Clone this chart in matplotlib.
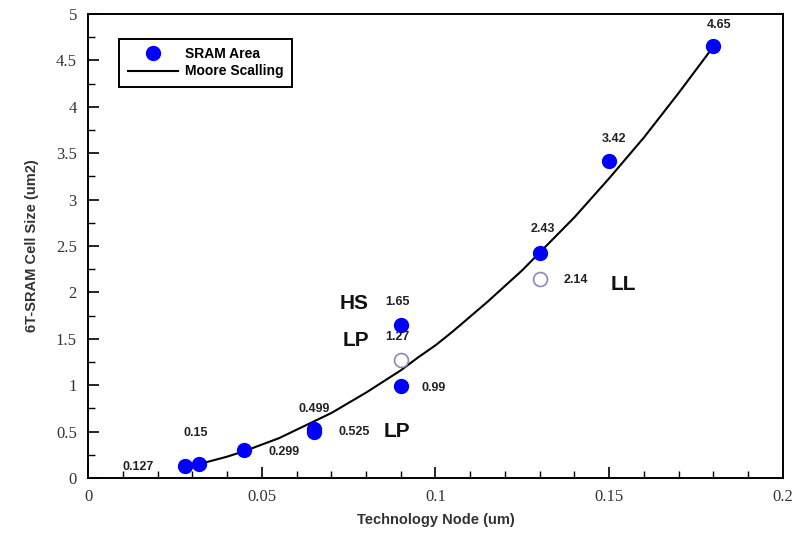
import matplotlib.pyplot as plt
from matplotlib.ticker import MultipleLocator

# measured cell sizes (um2) per node (um)
node = [0.028, 0.032, 0.045, 0.065, 0.065, 0.09, 0.09, 0.13, 0.15, 0.18]
area = [0.127, 0.15, 0.299, 0.499, 0.525, 0.99, 1.65, 2.43, 3.42, 4.65]

# open markers (LP 90nm, LL 130nm)
open_node = [0.09, 0.13]
open_area = [1.27, 2.14]

# Moore scaling curve
moore_x = [0.032, 0.036, 0.04, 0.045, 0.05, 0.055, 0.06, 0.065, 0.07, 0.075,
           0.08, 0.085, 0.09, 0.095, 0.10, 0.105, 0.11, 0.115, 0.12, 0.125,
           0.13, 0.135, 0.14, 0.145, 0.15, 0.155, 0.16, 0.165, 0.17, 0.175, 0.18]
moore_y = [0.15, 0.19, 0.23, 0.29, 0.36, 0.43, 0.52, 0.61, 0.70, 0.81,
           0.92, 1.04, 1.16, 1.30, 1.43, 1.58, 1.74, 1.90, 2.07, 2.24,
           2.43, 2.62, 2.81, 3.02, 3.23, 3.45, 3.67, 3.91, 4.15, 4.40, 4.65]

value_labels = ['0.127', '0.15', '0.299', '0.499', '0.525', '0.99',
                '1.65', '1.27', '2.43', '2.14', '3.42', '4.65']
label_x = [0.0145, 0.0310, 0.0565, 0.0650, 0.0765, 0.0995,
           0.0890, 0.0890, 0.1310, 0.1405, 0.1515, 0.1815]
label_y = [0.12, 0.48, 0.28, 0.74, 0.50, 0.97,
           1.90, 1.52, 2.68, 2.13, 3.65, 4.88]

tags = ['HS', 'LP', 'LP', 'LL']
tag_x = [0.0765, 0.0770, 0.0890, 0.1540]
tag_y = [1.88, 1.48, 0.50, 2.08]

fig = plt.figure(figsize=(7.96, 5.35), dpi=100)
ax = fig.add_axes([0.1106, 0.1065, 0.873, 0.8673])

ax.plot(node, area, 'o', color='#0000ff', ms=10, label='SRAM Area', zorder=3)
ax.plot(moore_x, moore_y, color='black', lw=1.5, label='Moore Scalling', zorder=2)
ax.plot(open_node, open_area, 'o', mfc='white', mec='#8888bb', mew=1.2, ms=10, zorder=3)

for t, x, y in zip(value_labels, label_x, label_y):
    ax.text(x, y, t, fontsize=9, fontweight='bold', color='#222222',
            family='Liberation Sans', ha='center', va='center')
for t, x, y in zip(tags, tag_x, tag_y):
    ax.text(x, y, t, fontsize=15, fontweight='bold', color='#111111',
            family='Liberation Sans', ha='center', va='center')

ax.set_xlim(0, 0.2)
ax.set_ylim(0, 5)
ax.xaxis.set_minor_locator(MultipleLocator(0.01))
ax.yaxis.set_minor_locator(MultipleLocator(0.25))
ax.set_xticks([0, 0.05, 0.1, 0.15, 0.2])
ax.set_xticklabels(['0', '0.05', '0.1', '0.15', '0.2'])
ax.set_yticks([0, 0.5, 1, 1.5, 2, 2.5, 3, 3.5, 4, 4.5, 5])
ax.set_yticklabels(['0', '0.5', '1', '1.5', '2', '2.5', '3', '3.5', '4', '4.5', '5'])
ax.tick_params(which='major', direction='in', length=8, width=1.2,
               labelsize=12, pad=8)
ax.tick_params(which='minor', direction='in', length=5, width=1)
for lbl in ax.get_xticklabels() + ax.get_yticklabels():
    lbl.set_family('Liberation Serif')
    lbl.set_color('#333333')
for s in ax.spines.values():
    s.set_linewidth(1.4)

ax.set_xlabel('Technology Node (um)', fontsize=10.5, fontweight='bold',
              family='Liberation Sans', color='#333333', labelpad=6)
ax.set_ylabel('6T-SRAM Cell Size (um2)', fontsize=10.5, fontweight='bold',
              family='Liberation Sans', color='#333333', labelpad=12)

leg = ax.legend(loc='upper left', bbox_to_anchor=(0.035, 0.962), fancybox=False,
                edgecolor='black', framealpha=1, borderpad=0.6,
                handlelength=3.6, handletextpad=0.5, labelspacing=0.25,
                prop={'family': 'Liberation Sans', 'weight': 'bold', 'size': 10})
leg.get_frame().set_linewidth(1.4)

fig.savefig('out.png', dpi=100)
